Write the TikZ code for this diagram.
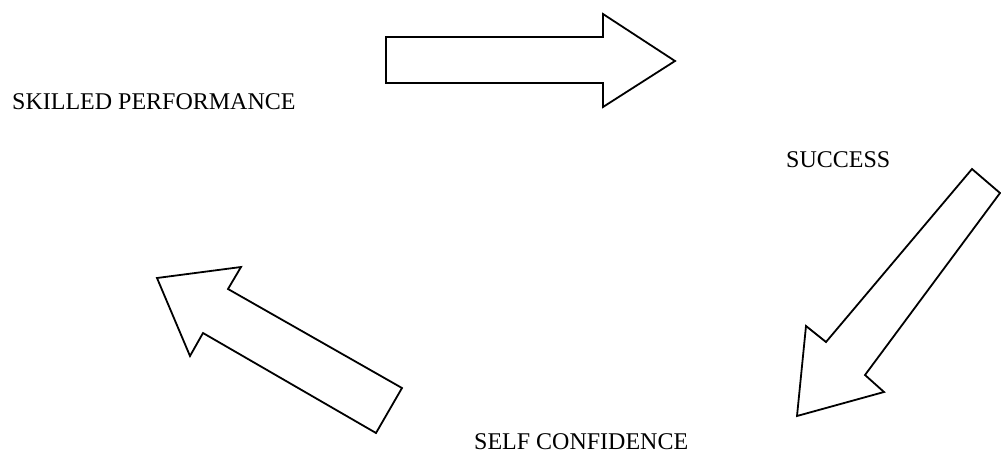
\documentclass[tikz,border=0pt]{standalone}
\usepackage{fontspec}
\setmainfont{Liberation Serif}
\usetikzlibrary{positioning}

\begin{document}
\begin{tikzpicture}[
  x=1pt, y=-1pt,
  caption/.style={font=\fontsize{24}{28}\selectfont, inner sep=0pt, anchor=base west},
  bigarrow/.style={draw, line width=1.8pt, line join=miter, fill=white},
]
\useasboundingbox (0,0) rectangle (1001,453);

% Labels
\node[caption] (perf) at (12,109) {SKILLED PERFORMANCE};
\node[caption] (succ) at (786,167) {SUCCESS};
\node[caption] (conf) at (474,449) {SELF CONFIDENCE};

% Arrow towards success
\draw[bigarrow] (386,37) -- (603,37) -- (603,14) -- (675,61) -- (603,107)
  -- (603,83) -- (386,83) -- cycle;

% Arrow towards self confidence
\draw[bigarrow] (972,169) -- (1000,193) -- (865,375) -- (884,392) -- (797,416)
  -- (806,326) -- (826,342) -- cycle;

% Arrow back to skilled performance
\draw[bigarrow] (402,388) -- (228,289) -- (241,267) -- (157,278) -- (190,356)
  -- (203,333) -- (376,433) -- cycle;
\end{tikzpicture}
\end{document}
